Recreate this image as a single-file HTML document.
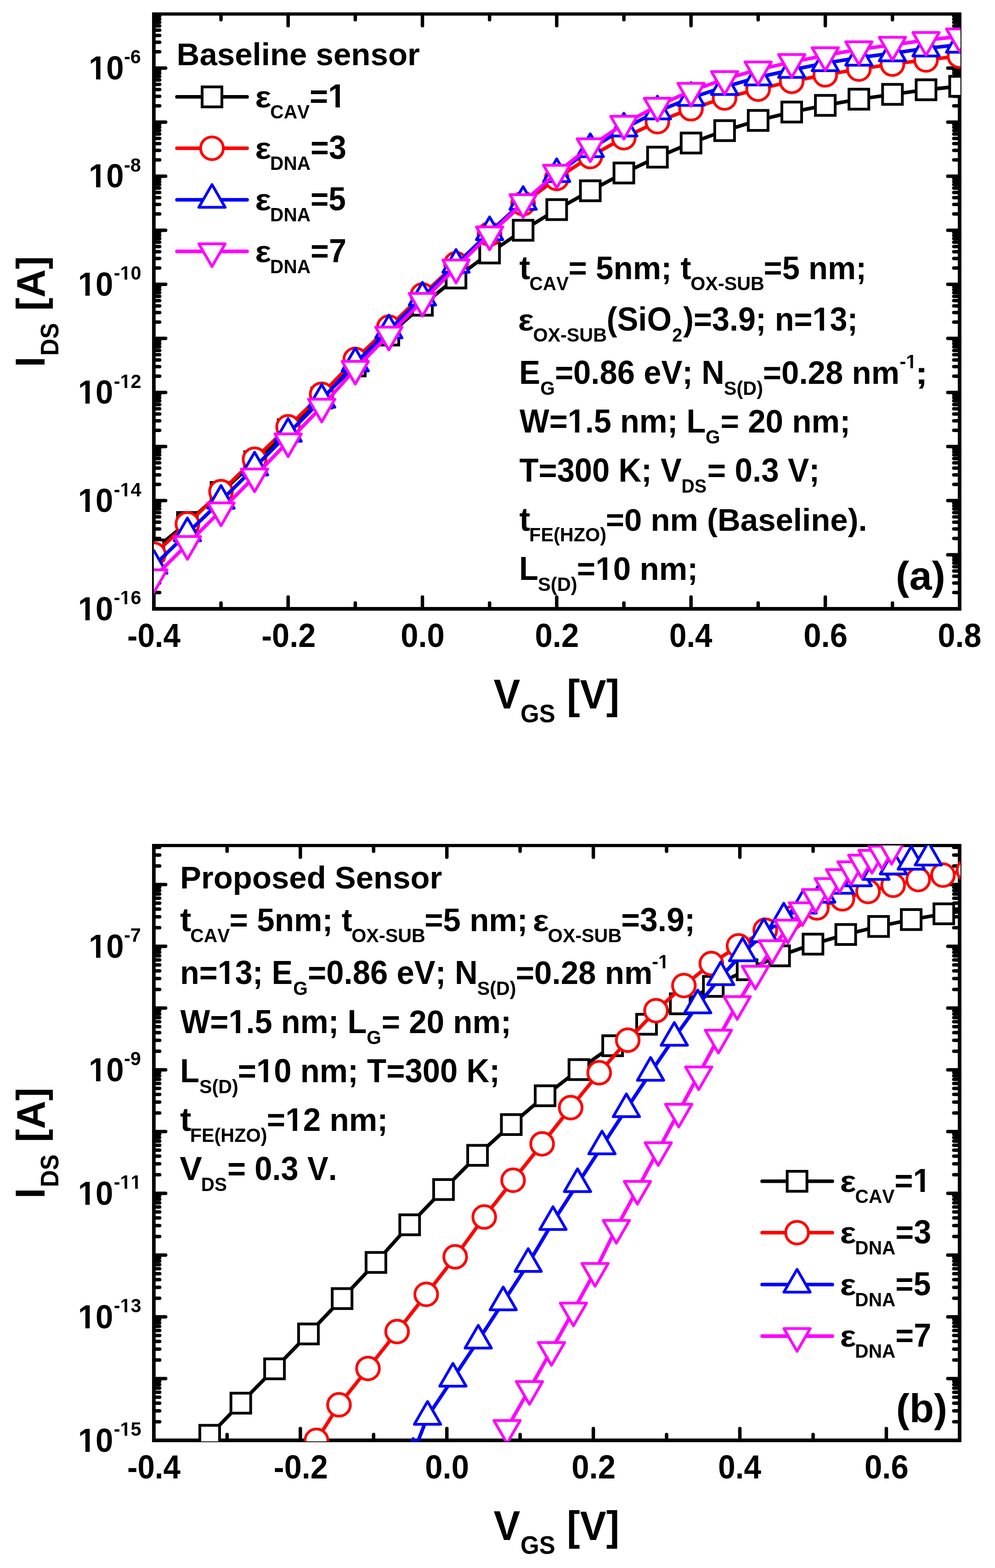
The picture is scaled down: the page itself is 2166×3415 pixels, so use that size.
<!DOCTYPE html>
<html lang="en"><head><meta charset="utf-8"><title>I-V characteristics</title>
<style>html,body{margin:0;padding:0;background:#fff}svg{display:block}text{white-space:pre;font-kerning:none}</style></head>
<body>
<svg width="2166" height="3415" viewBox="0 0 2166 3415" font-family='"Liberation Sans", sans-serif' font-weight="bold" fill="#000">
<rect width="2166" height="3415" fill="#fff"/>
<defs>
<clipPath id="ca"><rect x="334.90" y="30.40" width="1755.85" height="1297.80"/></clipPath>
<clipPath id="cb"><rect x="334.90" y="1841.40" width="1755.85" height="1297.80"/></clipPath>
<path id="msq" d="M-21.50 -21.75h43.0v43.5h-43.0z" stroke="#000000" stroke-width="6.0" fill="#fff" stroke-linejoin="miter"/>
<path id="mci" d="M-24.8 0.0a24.75 24.75 0 1 0 49.5 0a24.75 24.75 0 1 0 -49.5 0z" stroke="#ff0000" stroke-width="6.0" fill="#fff" stroke-linejoin="round"/>
<path id="mup" d="M0.0 -33.1l28.6 49.6h-57.3z" stroke="#0000ff" stroke-width="6.0" fill="#fff" stroke-linejoin="round"/>
<path id="mdn" d="M0.0 33.1l28.6 -49.6h-57.3z" stroke="#ff00ff" stroke-width="6.0" fill="#fff" stroke-linejoin="round"/>
</defs>
<path d="M331.00 26.90H2092.90V1329.90H331.00Z M338.80 33.90V1321.90H2085.00V33.90Z" fill="#000" fill-rule="evenodd"/>
<path d="M627.24 1325.90v-25.70M627.24 30.40v25.70M919.58 1325.90v-25.70M919.58 30.40v25.70M1211.92 1325.90v-25.70M1211.92 30.40v25.70M1504.27 1325.90v-25.70M1504.27 30.40v25.70M1796.61 1325.90v-25.70M1796.61 30.40v25.70M481.07 1325.90v-12.70M481.07 30.40v12.70M773.41 1325.90v-12.70M773.41 30.40v12.70M1065.75 1325.90v-12.70M1065.75 30.40v12.70M1358.10 1325.90v-12.70M1358.10 30.40v12.70M1650.44 1325.90v-12.70M1650.44 30.40v12.70M1942.78 1325.90v-12.70M1942.78 30.40v12.70M334.90 1290.45h12.70M2088.95 1290.45h-12.70M334.90 1269.71h12.70M2088.95 1269.71h-12.70M334.90 1254.99h12.70M2088.95 1254.99h-12.70M334.90 1243.58h12.70M2088.95 1243.58h-12.70M334.90 1234.26h12.70M2088.95 1234.26h-12.70M334.90 1226.37h12.70M2088.95 1226.37h-12.70M334.90 1219.54h12.70M2088.95 1219.54h-12.70M334.90 1213.52h12.70M2088.95 1213.52h-12.70M334.90 1208.13h25.70M2088.95 1208.13h-25.70M334.90 1172.67h12.70M2088.95 1172.67h-12.70M334.90 1151.94h12.70M2088.95 1151.94h-12.70M334.90 1137.22h12.70M2088.95 1137.22h-12.70M334.90 1125.81h12.70M2088.95 1125.81h-12.70M334.90 1116.48h12.70M2088.95 1116.48h-12.70M334.90 1108.60h12.70M2088.95 1108.60h-12.70M334.90 1101.77h12.70M2088.95 1101.77h-12.70M334.90 1095.74h12.70M2088.95 1095.74h-12.70M334.90 1090.35h25.70M2088.95 1090.35h-25.70M334.90 1054.90h12.70M2088.95 1054.90h-12.70M334.90 1034.16h12.70M2088.95 1034.16h-12.70M334.90 1019.45h12.70M2088.95 1019.45h-12.70M334.90 1008.03h12.70M2088.95 1008.03h-12.70M334.90 998.71h12.70M2088.95 998.71h-12.70M334.90 990.83h12.70M2088.95 990.83h-12.70M334.90 984.00h12.70M2088.95 984.00h-12.70M334.90 977.97h12.70M2088.95 977.97h-12.70M334.90 972.58h25.70M2088.95 972.58h-25.70M334.90 937.13h12.70M2088.95 937.13h-12.70M334.90 916.39h12.70M2088.95 916.39h-12.70M334.90 901.68h12.70M2088.95 901.68h-12.70M334.90 890.26h12.70M2088.95 890.26h-12.70M334.90 880.94h12.70M2088.95 880.94h-12.70M334.90 873.05h12.70M2088.95 873.05h-12.70M334.90 866.22h12.70M2088.95 866.22h-12.70M334.90 860.20h12.70M2088.95 860.20h-12.70M334.90 854.81h25.70M2088.95 854.81h-25.70M334.90 819.36h12.70M2088.95 819.36h-12.70M334.90 798.62h12.70M2088.95 798.62h-12.70M334.90 783.90h12.70M2088.95 783.90h-12.70M334.90 772.49h12.70M2088.95 772.49h-12.70M334.90 763.16h12.70M2088.95 763.16h-12.70M334.90 755.28h12.70M2088.95 755.28h-12.70M334.90 748.45h12.70M2088.95 748.45h-12.70M334.90 742.43h12.70M2088.95 742.43h-12.70M334.90 737.04h25.70M2088.95 737.04h-25.70M334.90 701.58h12.70M2088.95 701.58h-12.70M334.90 680.84h12.70M2088.95 680.84h-12.70M334.90 666.13h12.70M2088.95 666.13h-12.70M334.90 654.72h12.70M2088.95 654.72h-12.70M334.90 645.39h12.70M2088.95 645.39h-12.70M334.90 637.51h12.70M2088.95 637.51h-12.70M334.90 630.68h12.70M2088.95 630.68h-12.70M334.90 624.65h12.70M2088.95 624.65h-12.70M334.90 619.26h25.70M2088.95 619.26h-25.70M334.90 583.81h12.70M2088.95 583.81h-12.70M334.90 563.07h12.70M2088.95 563.07h-12.70M334.90 548.36h12.70M2088.95 548.36h-12.70M334.90 536.94h12.70M2088.95 536.94h-12.70M334.90 527.62h12.70M2088.95 527.62h-12.70M334.90 519.73h12.70M2088.95 519.73h-12.70M334.90 512.90h12.70M2088.95 512.90h-12.70M334.90 506.88h12.70M2088.95 506.88h-12.70M334.90 501.49h25.70M2088.95 501.49h-25.70M334.90 466.04h12.70M2088.95 466.04h-12.70M334.90 445.30h12.70M2088.95 445.30h-12.70M334.90 430.58h12.70M2088.95 430.58h-12.70M334.90 419.17h12.70M2088.95 419.17h-12.70M334.90 409.85h12.70M2088.95 409.85h-12.70M334.90 401.96h12.70M2088.95 401.96h-12.70M334.90 395.13h12.70M2088.95 395.13h-12.70M334.90 389.11h12.70M2088.95 389.11h-12.70M334.90 383.72h25.70M2088.95 383.72h-25.70M334.90 348.27h12.70M2088.95 348.27h-12.70M334.90 327.53h12.70M2088.95 327.53h-12.70M334.90 312.81h12.70M2088.95 312.81h-12.70M334.90 301.40h12.70M2088.95 301.40h-12.70M334.90 292.07h12.70M2088.95 292.07h-12.70M334.90 284.19h12.70M2088.95 284.19h-12.70M334.90 277.36h12.70M2088.95 277.36h-12.70M334.90 271.33h12.70M2088.95 271.33h-12.70M334.90 265.95h25.70M2088.95 265.95h-25.70M334.90 230.49h12.70M2088.95 230.49h-12.70M334.90 209.75h12.70M2088.95 209.75h-12.70M334.90 195.04h12.70M2088.95 195.04h-12.70M334.90 183.63h12.70M2088.95 183.63h-12.70M334.90 174.30h12.70M2088.95 174.30h-12.70M334.90 166.42h12.70M2088.95 166.42h-12.70M334.90 159.59h12.70M2088.95 159.59h-12.70M334.90 153.56h12.70M2088.95 153.56h-12.70M334.90 148.17h25.70M2088.95 148.17h-25.70M334.90 112.72h12.70M2088.95 112.72h-12.70M334.90 91.98h12.70M2088.95 91.98h-12.70M334.90 77.27h12.70M2088.95 77.27h-12.70M334.90 65.85h12.70M2088.95 65.85h-12.70M334.90 56.53h12.70M2088.95 56.53h-12.70M334.90 48.64h12.70M2088.95 48.64h-12.70M334.90 41.81h12.70M2088.95 41.81h-12.70M334.90 35.79h12.70M2088.95 35.79h-12.70" stroke="#000" stroke-width="7.5" fill="none" stroke-linecap="round"/>
<g clip-path="url(#ca)">
<path d="M334.9 1197.7L408.0 1138.0L481.1 1072.5L554.2 1005.7L627.2 936.0L700.3 866.8L773.4 796.9L846.5 729.8L919.6 664.8L992.7 605.4L1065.8 551.1L1138.8 501.4L1211.9 456.5L1285.0 415.5L1358.1 376.8L1431.2 342.3L1504.3 311.4L1577.4 284.4L1650.4 262.3L1723.5 244.1L1796.6 229.4L1869.7 216.0L1942.8 205.6L2015.9 195.4L2088.9 188.0" stroke="#000000" stroke-width="7.8" fill="none" stroke-linejoin="round"/>
<use href="#msq" x="334.9" y="1197.7"/><use href="#msq" x="408.0" y="1138.0"/><use href="#msq" x="481.1" y="1072.5"/><use href="#msq" x="554.2" y="1005.7"/><use href="#msq" x="627.2" y="936.0"/><use href="#msq" x="700.3" y="866.8"/><use href="#msq" x="773.4" y="796.9"/><use href="#msq" x="846.5" y="729.8"/><use href="#msq" x="919.6" y="664.8"/><use href="#msq" x="992.7" y="605.4"/><use href="#msq" x="1065.8" y="551.1"/><use href="#msq" x="1138.8" y="501.4"/><use href="#msq" x="1211.9" y="456.5"/><use href="#msq" x="1285.0" y="415.5"/><use href="#msq" x="1358.1" y="376.8"/><use href="#msq" x="1431.2" y="342.3"/><use href="#msq" x="1504.3" y="311.4"/><use href="#msq" x="1577.4" y="284.4"/><use href="#msq" x="1650.4" y="262.3"/><use href="#msq" x="1723.5" y="244.1"/><use href="#msq" x="1796.6" y="229.4"/><use href="#msq" x="1869.7" y="216.0"/><use href="#msq" x="1942.8" y="205.6"/><use href="#msq" x="2015.9" y="195.4"/><use href="#msq" x="2088.9" y="188.0"/>
</g>
<g clip-path="url(#ca)">
<path d="M334.9 1206.9L408.0 1140.9L481.1 1070.7L554.2 1000.2L627.2 929.5L700.3 858.7L773.4 782.8L846.5 712.6L919.6 642.6L992.7 574.4L1065.8 509.7L1138.8 443.5L1211.9 388.7L1285.0 341.0L1358.1 299.9L1431.2 265.0L1504.3 236.8L1577.4 213.4L1650.4 194.2L1723.5 177.2L1796.6 163.0L1869.7 150.5L1942.8 139.7L2015.9 130.5L2088.9 122.2" stroke="#ff0000" stroke-width="7.8" fill="none" stroke-linejoin="round"/>
<use href="#mci" x="334.9" y="1206.9"/><use href="#mci" x="408.0" y="1140.9"/><use href="#mci" x="481.1" y="1070.7"/><use href="#mci" x="554.2" y="1000.2"/><use href="#mci" x="627.2" y="929.5"/><use href="#mci" x="700.3" y="858.7"/><use href="#mci" x="773.4" y="782.8"/><use href="#mci" x="846.5" y="712.6"/><use href="#mci" x="919.6" y="642.6"/><use href="#mci" x="992.7" y="574.4"/><use href="#mci" x="1065.8" y="509.7"/><use href="#mci" x="1138.8" y="443.5"/><use href="#mci" x="1211.9" y="388.7"/><use href="#mci" x="1285.0" y="341.0"/><use href="#mci" x="1358.1" y="299.9"/><use href="#mci" x="1431.2" y="265.0"/><use href="#mci" x="1504.3" y="236.8"/><use href="#mci" x="1577.4" y="213.4"/><use href="#mci" x="1650.4" y="194.2"/><use href="#mci" x="1723.5" y="177.2"/><use href="#mci" x="1796.6" y="163.0"/><use href="#mci" x="1869.7" y="150.5"/><use href="#mci" x="1942.8" y="139.7"/><use href="#mci" x="2015.9" y="130.5"/><use href="#mci" x="2088.9" y="122.2"/>
</g>
<g clip-path="url(#ca)">
<path d="M334.9 1232.0L408.0 1161.3L481.1 1090.6L554.2 1018.0L627.2 944.6L700.3 870.5L773.4 791.4L846.5 719.4L919.6 648.0L992.7 576.5L1065.8 505.5L1138.8 439.5L1211.9 379.0L1285.0 324.7L1358.1 279.7L1431.2 242.6L1504.3 213.0L1577.4 189.3L1650.4 168.4L1723.5 152.1L1796.6 137.5L1869.7 125.6L1942.8 115.9L2015.9 105.4L2088.9 97.3" stroke="#0000ff" stroke-width="7.8" fill="none" stroke-linejoin="round"/>
<use href="#mup" x="334.9" y="1232.0"/><use href="#mup" x="408.0" y="1161.3"/><use href="#mup" x="481.1" y="1090.6"/><use href="#mup" x="554.2" y="1018.0"/><use href="#mup" x="627.2" y="944.6"/><use href="#mup" x="700.3" y="870.5"/><use href="#mup" x="773.4" y="791.4"/><use href="#mup" x="846.5" y="719.4"/><use href="#mup" x="919.6" y="648.0"/><use href="#mup" x="992.7" y="576.5"/><use href="#mup" x="1065.8" y="505.5"/><use href="#mup" x="1138.8" y="439.5"/><use href="#mup" x="1211.9" y="379.0"/><use href="#mup" x="1285.0" y="324.7"/><use href="#mup" x="1358.1" y="279.7"/><use href="#mup" x="1431.2" y="242.6"/><use href="#mup" x="1504.3" y="213.0"/><use href="#mup" x="1577.4" y="189.3"/><use href="#mup" x="1650.4" y="168.4"/><use href="#mup" x="1723.5" y="152.1"/><use href="#mup" x="1796.6" y="137.5"/><use href="#mup" x="1869.7" y="125.6"/><use href="#mup" x="1942.8" y="115.9"/><use href="#mup" x="2015.9" y="105.4"/><use href="#mup" x="2088.9" y="97.3"/>
</g>
<g clip-path="url(#ca)">
<path d="M334.9 1257.4L408.0 1185.1L481.1 1111.8L554.2 1037.9L627.2 961.5L700.3 886.0L773.4 803.5L846.5 729.1L919.6 655.5L992.7 582.8L1065.8 510.8L1138.8 440.6L1211.9 376.4L1285.0 318.8L1358.1 269.8L1431.2 230.5L1504.3 198.1L1577.4 172.5L1650.4 151.5L1723.5 135.3L1796.6 120.6L1869.7 107.5L1942.8 97.8L2015.9 87.3L2088.9 79.5" stroke="#ff00ff" stroke-width="7.8" fill="none" stroke-linejoin="round"/>
<use href="#mdn" x="334.9" y="1257.4"/><use href="#mdn" x="408.0" y="1185.1"/><use href="#mdn" x="481.1" y="1111.8"/><use href="#mdn" x="554.2" y="1037.9"/><use href="#mdn" x="627.2" y="961.5"/><use href="#mdn" x="700.3" y="886.0"/><use href="#mdn" x="773.4" y="803.5"/><use href="#mdn" x="846.5" y="729.1"/><use href="#mdn" x="919.6" y="655.5"/><use href="#mdn" x="992.7" y="582.8"/><use href="#mdn" x="1065.8" y="510.8"/><use href="#mdn" x="1138.8" y="440.6"/><use href="#mdn" x="1211.9" y="376.4"/><use href="#mdn" x="1285.0" y="318.8"/><use href="#mdn" x="1358.1" y="269.8"/><use href="#mdn" x="1431.2" y="230.5"/><use href="#mdn" x="1504.3" y="198.1"/><use href="#mdn" x="1577.4" y="172.5"/><use href="#mdn" x="1650.4" y="151.5"/><use href="#mdn" x="1723.5" y="135.3"/><use href="#mdn" x="1796.6" y="120.6"/><use href="#mdn" x="1869.7" y="107.5"/><use href="#mdn" x="1942.8" y="97.8"/><use href="#mdn" x="2015.9" y="87.3"/><use href="#mdn" x="2088.9" y="79.5"/>
</g>
<path d="M331.00 1837.90H2092.90V3140.90H331.00Z M338.80 1844.90V3132.90H2085.00V1844.90Z" fill="#000" fill-rule="evenodd"/>
<path d="M653.82 3136.90v-25.70M653.82 1841.40v25.70M972.74 3136.90v-25.70M972.74 1841.40v25.70M1291.65 3136.90v-25.70M1291.65 1841.40v25.70M1610.57 3136.90v-25.70M1610.57 1841.40v25.70M1929.49 3136.90v-25.70M1929.49 1841.40v25.70M494.36 3136.90v-12.70M494.36 1841.40v12.70M813.28 3136.90v-12.70M813.28 1841.40v12.70M1132.20 3136.90v-12.70M1132.20 1841.40v12.70M1451.11 3136.90v-12.70M1451.11 1841.40v12.70M1770.03 3136.90v-12.70M1770.03 1841.40v12.70M334.90 3096.41h12.70M2088.95 3096.41h-12.70M334.90 3072.73h12.70M2088.95 3072.73h-12.70M334.90 3055.92h12.70M2088.95 3055.92h-12.70M334.90 3042.89h12.70M2088.95 3042.89h-12.70M334.90 3032.24h12.70M2088.95 3032.24h-12.70M334.90 3023.23h12.70M2088.95 3023.23h-12.70M334.90 3015.43h12.70M2088.95 3015.43h-12.70M334.90 3008.55h12.70M2088.95 3008.55h-12.70M334.90 3002.40h25.70M2088.95 3002.40h-25.70M334.90 2961.91h12.70M2088.95 2961.91h-12.70M334.90 2938.23h12.70M2088.95 2938.23h-12.70M334.90 2921.42h12.70M2088.95 2921.42h-12.70M334.90 2908.39h12.70M2088.95 2908.39h-12.70M334.90 2897.74h12.70M2088.95 2897.74h-12.70M334.90 2888.73h12.70M2088.95 2888.73h-12.70M334.90 2880.93h12.70M2088.95 2880.93h-12.70M334.90 2874.05h12.70M2088.95 2874.05h-12.70M334.90 2867.90h25.70M2088.95 2867.90h-25.70M334.90 2827.41h12.70M2088.95 2827.41h-12.70M334.90 2803.73h12.70M2088.95 2803.73h-12.70M334.90 2786.92h12.70M2088.95 2786.92h-12.70M334.90 2773.89h12.70M2088.95 2773.89h-12.70M334.90 2763.24h12.70M2088.95 2763.24h-12.70M334.90 2754.23h12.70M2088.95 2754.23h-12.70M334.90 2746.43h12.70M2088.95 2746.43h-12.70M334.90 2739.55h12.70M2088.95 2739.55h-12.70M334.90 2733.40h25.70M2088.95 2733.40h-25.70M334.90 2692.91h12.70M2088.95 2692.91h-12.70M334.90 2669.23h12.70M2088.95 2669.23h-12.70M334.90 2652.42h12.70M2088.95 2652.42h-12.70M334.90 2639.39h12.70M2088.95 2639.39h-12.70M334.90 2628.74h12.70M2088.95 2628.74h-12.70M334.90 2619.73h12.70M2088.95 2619.73h-12.70M334.90 2611.93h12.70M2088.95 2611.93h-12.70M334.90 2605.05h12.70M2088.95 2605.05h-12.70M334.90 2598.90h25.70M2088.95 2598.90h-25.70M334.90 2558.41h12.70M2088.95 2558.41h-12.70M334.90 2534.73h12.70M2088.95 2534.73h-12.70M334.90 2517.92h12.70M2088.95 2517.92h-12.70M334.90 2504.89h12.70M2088.95 2504.89h-12.70M334.90 2494.24h12.70M2088.95 2494.24h-12.70M334.90 2485.23h12.70M2088.95 2485.23h-12.70M334.90 2477.43h12.70M2088.95 2477.43h-12.70M334.90 2470.55h12.70M2088.95 2470.55h-12.70M334.90 2464.40h25.70M2088.95 2464.40h-25.70M334.90 2423.91h12.70M2088.95 2423.91h-12.70M334.90 2400.23h12.70M2088.95 2400.23h-12.70M334.90 2383.42h12.70M2088.95 2383.42h-12.70M334.90 2370.39h12.70M2088.95 2370.39h-12.70M334.90 2359.74h12.70M2088.95 2359.74h-12.70M334.90 2350.73h12.70M2088.95 2350.73h-12.70M334.90 2342.93h12.70M2088.95 2342.93h-12.70M334.90 2336.05h12.70M2088.95 2336.05h-12.70M334.90 2329.90h25.70M2088.95 2329.90h-25.70M334.90 2289.41h12.70M2088.95 2289.41h-12.70M334.90 2265.73h12.70M2088.95 2265.73h-12.70M334.90 2248.92h12.70M2088.95 2248.92h-12.70M334.90 2235.89h12.70M2088.95 2235.89h-12.70M334.90 2225.24h12.70M2088.95 2225.24h-12.70M334.90 2216.23h12.70M2088.95 2216.23h-12.70M334.90 2208.43h12.70M2088.95 2208.43h-12.70M334.90 2201.55h12.70M2088.95 2201.55h-12.70M334.90 2195.40h25.70M2088.95 2195.40h-25.70M334.90 2154.91h12.70M2088.95 2154.91h-12.70M334.90 2131.23h12.70M2088.95 2131.23h-12.70M334.90 2114.42h12.70M2088.95 2114.42h-12.70M334.90 2101.39h12.70M2088.95 2101.39h-12.70M334.90 2090.74h12.70M2088.95 2090.74h-12.70M334.90 2081.73h12.70M2088.95 2081.73h-12.70M334.90 2073.93h12.70M2088.95 2073.93h-12.70M334.90 2067.05h12.70M2088.95 2067.05h-12.70M334.90 2060.90h25.70M2088.95 2060.90h-25.70M334.90 2020.41h12.70M2088.95 2020.41h-12.70M334.90 1996.73h12.70M2088.95 1996.73h-12.70M334.90 1979.92h12.70M2088.95 1979.92h-12.70M334.90 1966.89h12.70M2088.95 1966.89h-12.70M334.90 1956.24h12.70M2088.95 1956.24h-12.70M334.90 1947.23h12.70M2088.95 1947.23h-12.70M334.90 1939.43h12.70M2088.95 1939.43h-12.70M334.90 1932.55h12.70M2088.95 1932.55h-12.70M334.90 1926.40h25.70M2088.95 1926.40h-25.70M334.90 1885.91h12.70M2088.95 1885.91h-12.70M334.90 1862.23h12.70M2088.95 1862.23h-12.70M334.90 1845.42h12.70M2088.95 1845.42h-12.70" stroke="#000" stroke-width="7.5" fill="none" stroke-linecap="round"/>
<g clip-path="url(#cb)">
<path d="M456.5 3126.0L524.2 3055.9L597.6 2981.3L671.5 2905.3L744.7 2828.3L818.4 2749.4L891.8 2667.4L965.5 2590.8L1039.6 2516.2L1113.0 2449.2L1186.6 2386.5L1260.2 2329.4L1333.6 2277.4L1407.5 2230.8L1480.8 2186.3L1552.8 2148.2L1626.3 2111.9L1697.1 2081.7L1769.8 2056.3L1841.1 2035.2L1912.6 2017.7L1983.6 2002.8L2054.6 1990.2L2127.0 1980.0" stroke="#000000" stroke-width="7.8" fill="none" stroke-linejoin="round"/>
<use href="#msq" x="456.5" y="3126.0"/><use href="#msq" x="524.2" y="3055.9"/><use href="#msq" x="597.6" y="2981.3"/><use href="#msq" x="671.5" y="2905.3"/><use href="#msq" x="744.7" y="2828.3"/><use href="#msq" x="818.4" y="2749.4"/><use href="#msq" x="891.8" y="2667.4"/><use href="#msq" x="965.5" y="2590.8"/><use href="#msq" x="1039.6" y="2516.2"/><use href="#msq" x="1113.0" y="2449.2"/><use href="#msq" x="1186.6" y="2386.5"/><use href="#msq" x="1260.2" y="2329.4"/><use href="#msq" x="1333.6" y="2277.4"/><use href="#msq" x="1407.5" y="2230.8"/><use href="#msq" x="1480.8" y="2186.3"/><use href="#msq" x="1552.8" y="2148.2"/><use href="#msq" x="1626.3" y="2111.9"/><use href="#msq" x="1697.1" y="2081.7"/><use href="#msq" x="1769.8" y="2056.3"/><use href="#msq" x="1841.1" y="2035.2"/><use href="#msq" x="1912.6" y="2017.7"/><use href="#msq" x="1983.6" y="2002.8"/><use href="#msq" x="2054.6" y="1990.2"/><use href="#msq" x="2127.0" y="1980.0"/>
</g>
<g clip-path="url(#cb)">
<path d="M688.9 3137.0L738.0 3059.6L801.1 2980.4L864.5 2900.1L927.9 2819.0L991.0 2737.3L1054.2 2650.6L1117.0 2570.5L1180.2 2491.2L1242.3 2412.3L1304.4 2336.3L1366.6 2265.4L1428.1 2201.2L1488.8 2146.5L1548.5 2098.5L1607.7 2060.0L1665.9 2026.0L1722.0 2000.0L1778.3 1977.3L1833.9 1957.6L1889.7 1941.6L1944.3 1928.0L1998.9 1915.7L2052.7 1906.0L2108.4 1895.5" stroke="#ff0000" stroke-width="7.8" fill="none" stroke-linejoin="round"/>
<use href="#mci" x="688.9" y="3137.0"/><use href="#mci" x="738.0" y="3059.6"/><use href="#mci" x="801.1" y="2980.4"/><use href="#mci" x="864.5" y="2900.1"/><use href="#mci" x="927.9" y="2819.0"/><use href="#mci" x="991.0" y="2737.3"/><use href="#mci" x="1054.2" y="2650.6"/><use href="#mci" x="1117.0" y="2570.5"/><use href="#mci" x="1180.2" y="2491.2"/><use href="#mci" x="1242.3" y="2412.3"/><use href="#mci" x="1304.4" y="2336.3"/><use href="#mci" x="1366.6" y="2265.4"/><use href="#mci" x="1428.1" y="2201.2"/><use href="#mci" x="1488.8" y="2146.5"/><use href="#mci" x="1548.5" y="2098.5"/><use href="#mci" x="1607.7" y="2060.0"/><use href="#mci" x="1665.9" y="2026.0"/><use href="#mci" x="1722.0" y="2000.0"/><use href="#mci" x="1778.3" y="1977.3"/><use href="#mci" x="1833.9" y="1957.6"/><use href="#mci" x="1889.7" y="1941.6"/><use href="#mci" x="1944.3" y="1928.0"/><use href="#mci" x="1998.9" y="1915.7"/><use href="#mci" x="2052.7" y="1906.0"/><use href="#mci" x="2108.4" y="1895.5"/>
</g>
<g clip-path="url(#cb)">
<path d="M899.4 3166.0L930.7 3085.4L986.0 3002.4L1041.1 2919.5L1095.4 2836.2L1149.8 2752.6L1203.8 2661.3L1257.2 2578.7L1310.5 2496.5L1363.6 2415.5L1416.3 2336.2L1467.9 2260.0L1518.9 2189.4L1569.0 2128.1L1616.6 2076.1L1662.7 2034.4L1706.2 2000.3L1748.5 1972.2L1789.0 1948.6L1829.7 1928.9L1868.4 1912.7L1906.9 1898.8L1944.9 1887.0L1983.7 1876.5L2020.9 1867.4" stroke="#0000ff" stroke-width="7.8" fill="none" stroke-linejoin="round"/>
<use href="#mup" x="899.4" y="3166.0"/><use href="#mup" x="930.7" y="3085.4"/><use href="#mup" x="986.0" y="3002.4"/><use href="#mup" x="1041.1" y="2919.5"/><use href="#mup" x="1095.4" y="2836.2"/><use href="#mup" x="1149.8" y="2752.6"/><use href="#mup" x="1203.8" y="2661.3"/><use href="#mup" x="1257.2" y="2578.7"/><use href="#mup" x="1310.5" y="2496.5"/><use href="#mup" x="1363.6" y="2415.5"/><use href="#mup" x="1416.3" y="2336.2"/><use href="#mup" x="1467.9" y="2260.0"/><use href="#mup" x="1518.9" y="2189.4"/><use href="#mup" x="1569.0" y="2128.1"/><use href="#mup" x="1616.6" y="2076.1"/><use href="#mup" x="1662.7" y="2034.4"/><use href="#mup" x="1706.2" y="2000.3"/><use href="#mup" x="1748.5" y="1972.2"/><use href="#mup" x="1789.0" y="1948.6"/><use href="#mup" x="1829.7" y="1928.9"/><use href="#mup" x="1868.4" y="1912.7"/><use href="#mup" x="1906.9" y="1898.8"/><use href="#mup" x="1944.9" y="1887.0"/><use href="#mup" x="1983.7" y="1876.5"/><use href="#mup" x="2020.9" y="1867.4"/>
</g>
<g clip-path="url(#cb)">
<path d="M1103.8 3110.2L1152.6 3025.5L1200.5 2940.4L1248.3 2854.5L1295.4 2768.2L1341.7 2674.5L1387.6 2589.5L1432.9 2505.2L1477.5 2421.4L1521.0 2340.2L1563.9 2260.3L1604.8 2187.0L1644.3 2121.0L1680.7 2065.2L1715.3 2020.4L1746.8 1982.7L1775.6 1953.8L1803.0 1930.0L1827.6 1910.5L1852.7 1893.5L1876.0 1879.1L1898.3 1868.6L1920.0 1859.4L1941.0 1849.0" stroke="#ff00ff" stroke-width="7.8" fill="none" stroke-linejoin="round"/>
<use href="#mdn" x="1103.8" y="3110.2"/><use href="#mdn" x="1152.6" y="3025.5"/><use href="#mdn" x="1200.5" y="2940.4"/><use href="#mdn" x="1248.3" y="2854.5"/><use href="#mdn" x="1295.4" y="2768.2"/><use href="#mdn" x="1341.7" y="2674.5"/><use href="#mdn" x="1387.6" y="2589.5"/><use href="#mdn" x="1432.9" y="2505.2"/><use href="#mdn" x="1477.5" y="2421.4"/><use href="#mdn" x="1521.0" y="2340.2"/><use href="#mdn" x="1563.9" y="2260.3"/><use href="#mdn" x="1604.8" y="2187.0"/><use href="#mdn" x="1644.3" y="2121.0"/><use href="#mdn" x="1680.7" y="2065.2"/><use href="#mdn" x="1715.3" y="2020.4"/><use href="#mdn" x="1746.8" y="1982.7"/><use href="#mdn" x="1775.6" y="1953.8"/><use href="#mdn" x="1803.0" y="1930.0"/><use href="#mdn" x="1827.6" y="1910.5"/><use href="#mdn" x="1852.7" y="1893.5"/><use href="#mdn" x="1876.0" y="1879.1"/><use href="#mdn" x="1898.3" y="1868.6"/><use href="#mdn" x="1920.0" y="1859.4"/><use href="#mdn" x="1941.0" y="1849.0"/>
</g>
<path d="M385.2 210.9H537.9" stroke="#000000" stroke-width="7.8" stroke-linecap="round"/>
<use href="#msq" x="461.5" y="210.9"/>
<path d="M385.2 322.9H537.9" stroke="#ff0000" stroke-width="7.8" stroke-linecap="round"/>
<use href="#mci" x="461.5" y="322.9"/>
<path d="M385.2 435.1H537.9" stroke="#0000ff" stroke-width="7.8" stroke-linecap="round"/>
<use href="#mup" x="461.5" y="435.1"/>
<path d="M385.2 547.5H537.9" stroke="#ff00ff" stroke-width="7.8" stroke-linecap="round"/>
<use href="#mdn" x="461.5" y="547.5"/>
<path d="M1659.1 2572.7H1811.9" stroke="#000000" stroke-width="7.8" stroke-linecap="round"/>
<use href="#msq" x="1735.1" y="2572.7"/>
<path d="M1659.1 2684.7H1811.9" stroke="#ff0000" stroke-width="7.8" stroke-linecap="round"/>
<use href="#mci" x="1735.1" y="2684.7"/>
<path d="M1659.1 2797.7H1811.9" stroke="#0000ff" stroke-width="7.8" stroke-linecap="round"/>
<use href="#mup" x="1735.1" y="2797.7"/>
<path d="M1659.1 2910.0H1811.9" stroke="#ff00ff" stroke-width="7.8" stroke-linecap="round"/>
<use href="#mdn" x="1735.1" y="2910.0"/>
<defs><clipPath id="k1"><path clip-rule="evenodd" d="M-40 -160H116.8V80H-40ZM2.07 -8.14H16.11V2.07H2.07ZM25.56 -8.14H38.64V2.07H38.64H25.56Z"/></clipPath><clipPath id="k2"><path clip-rule="evenodd" d="M-40 -160H99.8V80H-40ZM15.04 -38.03H23.46V-31.90H15.04ZM29.14 -38.03H36.98V-31.90H36.98H29.14Z"/></clipPath><clipPath id="k3"><path clip-rule="evenodd" d="M-40 -160H116.8V80H-40ZM2.07 -8.14H16.11V2.07H2.07ZM25.56 -8.14H38.64V2.07H38.64H25.56Z"/></clipPath><clipPath id="k4"><path clip-rule="evenodd" d="M-40 -160H99.8V80H-40ZM15.04 -38.03H23.46V-31.90H15.04ZM29.14 -38.03H36.98V-31.90H36.98H29.14Z"/></clipPath><clipPath id="k5"><path clip-rule="evenodd" d="M-40 -160H116.8V80H-40ZM2.07 -8.14H16.11V2.07H2.07ZM25.56 -8.14H38.64V2.07H38.64H25.56Z"/></clipPath><clipPath id="k6"><path clip-rule="evenodd" d="M-40 -160H99.8V80H-40ZM15.04 -38.03H23.46V-31.90H15.04ZM29.14 -38.03H36.98V-31.90H36.98H29.14Z"/></clipPath><clipPath id="k7"><path clip-rule="evenodd" d="M-40 -160H116.8V80H-40ZM2.07 -8.14H16.11V2.07H2.07ZM25.56 -8.14H38.64V2.07H38.64H25.56Z"/></clipPath><clipPath id="k8"><path clip-rule="evenodd" d="M-40 -160H99.8V80H-40ZM15.04 -38.03H23.46V-31.90H15.04ZM29.14 -38.03H36.98V-31.90H36.98H29.14Z"/></clipPath><clipPath id="k9"><path clip-rule="evenodd" d="M-40 -160H116.8V80H-40ZM2.07 -8.14H16.11V2.07H2.07ZM25.56 -8.14H38.64V2.07H38.64H25.56Z"/></clipPath><clipPath id="k10"><path clip-rule="evenodd" d="M-40 -160H116.8V80H-40ZM2.07 -8.14H16.11V2.07H2.07ZM25.56 -8.14H38.64V2.07H38.64H25.56Z"/></clipPath><clipPath id="k11"><path clip-rule="evenodd" d="M-40 -160H116.8V80H-40ZM2.07 -8.14H16.11V2.07H2.07ZM25.56 -8.14H38.64V2.07H38.64H25.56Z"/></clipPath><clipPath id="k12"><path clip-rule="evenodd" d="M-40 -160H99.8V80H-40ZM15.04 -38.03H23.46V-31.90H15.04ZM29.14 -38.03H36.98V-31.90H36.98H29.14Z"/></clipPath><clipPath id="k13"><path clip-rule="evenodd" d="M-40 -160H116.8V80H-40ZM2.07 -8.14H16.11V2.07H2.07ZM25.56 -8.14H38.64V2.07H38.64H25.56Z"/></clipPath><clipPath id="k14"><path clip-rule="evenodd" d="M-40 -160H99.8V80H-40ZM15.04 -38.03H23.46V-31.90H15.04ZM29.14 -38.03H36.98V-31.90H36.98H29.14Z"/></clipPath><clipPath id="k15"><path clip-rule="evenodd" d="M-40 -160H116.8V80H-40ZM2.07 -8.14H16.11V2.07H2.07ZM25.56 -8.14H38.64V2.07H38.64H25.56Z"/></clipPath><clipPath id="k16"><path clip-rule="evenodd" d="M-40 -160H99.8V80H-40ZM15.04 -38.03H23.46V-31.90H15.04ZM29.14 -38.03H36.98V-31.90H36.98H29.14ZM38.05 -38.03H46.48V-31.90H38.05ZM52.15 -38.03H60.00V-31.90H60.00H52.15Z"/></clipPath><clipPath id="k17"><path clip-rule="evenodd" d="M-40 -160H116.8V80H-40ZM2.07 -8.14H16.11V2.07H2.07ZM25.56 -8.14H38.64V2.07H38.64H25.56Z"/></clipPath><clipPath id="k18"><path clip-rule="evenodd" d="M-40 -160H116.8V80H-40ZM2.07 -8.14H16.11V2.07H2.07ZM25.56 -8.14H38.64V2.07H38.64H25.56Z"/></clipPath><clipPath id="k19"><path clip-rule="evenodd" d="M-40 -160H118.7V80H-40ZM42.37 -8.14H56.41V2.07H42.37ZM65.86 -8.14H78.94V2.07H78.94H65.86Z"/></clipPath><clipPath id="k20"><path clip-rule="evenodd" d="M-40 -160H118.7V80H-40ZM42.37 -8.14H56.41V2.07H42.37ZM65.86 -8.14H78.94V2.07H78.94H65.86Z"/></clipPath><clipPath id="k21"><path clip-rule="evenodd" d="M-40 -160H423.5V80H-40ZM285.87 -8.14H299.91V2.07H285.87ZM309.36 -8.14H322.44V2.07H322.44H309.36Z"/></clipPath><clipPath id="k22"><path clip-rule="evenodd" d="M-40 -160H76.8V80H-40ZM15.04 -38.03H23.46V-31.90H15.04ZM29.14 -38.03H36.98V-31.90H36.98H29.14Z"/></clipPath><clipPath id="k23"><path clip-rule="evenodd" d="M-40 -160H448.3V80H-40ZM107.49 -8.14H121.53V2.07H107.49ZM130.99 -8.14H144.06V2.07H144.06H130.99Z"/></clipPath><clipPath id="k24"><path clip-rule="evenodd" d="M-40 -160H302.7V80H-40ZM42.37 -8.14H56.41V2.07H42.37ZM65.86 -8.14H78.94V2.07H78.94H65.86Z"/></clipPath><clipPath id="k25"><path clip-rule="evenodd" d="M-40 -160H287.4V80H-40ZM84.52 -8.14H98.56V2.07H84.52ZM108.02 -8.14H121.09V2.07H121.09H108.02Z"/></clipPath><clipPath id="k26"><path clip-rule="evenodd" d="M-40 -160H76.8V80H-40ZM15.04 -38.03H23.46V-31.90H15.04ZM29.14 -38.03H36.98V-31.90H36.98H29.14Z"/></clipPath><clipPath id="k27"><path clip-rule="evenodd" d="M-40 -160H448.3V80H-40ZM107.49 -8.14H121.53V2.07H107.49ZM130.99 -8.14H144.06V2.07H144.06H130.99Z"/></clipPath><clipPath id="k28"><path clip-rule="evenodd" d="M-40 -160H611.4V80H-40ZM42.37 -8.14H56.41V2.07H42.37ZM65.86 -8.14H78.94V2.07H78.94H65.86Z"/></clipPath><clipPath id="k29"><path clip-rule="evenodd" d="M-40 -160H302.7V80H-40ZM42.37 -8.14H56.41V2.07H42.37ZM65.86 -8.14H78.94V2.07H78.94H65.86Z"/></clipPath></defs>
<text clip-path="url(#k1)" transform="translate(169.70 1350.50) scale(1.0000 1.0380)" font-size="69.00">10</text>
<text clip-path="url(#k2)" transform="translate(247.80 1350.50) scale(1.0000 1.0380)" font-size="69.00"><tspan dy="-33.14" font-size="41.40">-16</tspan></text>
<text clip-path="url(#k3)" transform="translate(169.70 1114.95) scale(1.0000 1.0380)" font-size="69.00">10</text>
<text clip-path="url(#k4)" transform="translate(247.80 1114.95) scale(1.0000 1.0380)" font-size="69.00"><tspan dy="-33.14" font-size="41.40">-14</tspan></text>
<text clip-path="url(#k5)" transform="translate(169.70 879.41) scale(1.0000 1.0380)" font-size="69.00">10</text>
<text clip-path="url(#k6)" transform="translate(247.80 879.41) scale(1.0000 1.0380)" font-size="69.00"><tspan dy="-33.14" font-size="41.40">-12</tspan></text>
<text clip-path="url(#k7)" transform="translate(169.70 643.86) scale(1.0000 1.0380)" font-size="69.00">10</text>
<text clip-path="url(#k8)" transform="translate(247.80 643.86) scale(1.0000 1.0380)" font-size="69.00"><tspan dy="-33.14" font-size="41.40">-10</tspan></text>
<text clip-path="url(#k9)" transform="translate(193.00 408.32) scale(1.0000 1.0380)" font-size="69.00">10</text>
<text transform="translate(270.00 408.32) scale(1.0000 1.0380)" font-size="69.00"><tspan dy="-33.14" font-size="41.40">-8</tspan></text>
<text clip-path="url(#k10)" transform="translate(193.00 172.77) scale(1.0000 1.0380)" font-size="69.00">10</text>
<text transform="translate(270.00 172.77) scale(1.0000 1.0380)" font-size="69.00"><tspan dy="-33.14" font-size="41.40">-6</tspan></text>
<text clip-path="url(#k11)" transform="translate(169.70 3161.50) scale(1.0000 1.0380)" font-size="69.00">10</text>
<text clip-path="url(#k12)" transform="translate(247.80 3161.50) scale(1.0000 1.0380)" font-size="69.00"><tspan dy="-33.14" font-size="41.40">-15</tspan></text>
<text clip-path="url(#k13)" transform="translate(169.70 2892.50) scale(1.0000 1.0380)" font-size="69.00">10</text>
<text clip-path="url(#k14)" transform="translate(247.80 2892.50) scale(1.0000 1.0380)" font-size="69.00"><tspan dy="-33.14" font-size="41.40">-13</tspan></text>
<text clip-path="url(#k15)" transform="translate(169.70 2623.50) scale(1.0000 1.0380)" font-size="69.00">10</text>
<text clip-path="url(#k16)" transform="translate(247.80 2623.50) scale(1.0000 1.0380)" font-size="69.00"><tspan dy="-33.14" font-size="41.40">-11</tspan></text>
<text clip-path="url(#k17)" transform="translate(193.00 2354.50) scale(1.0000 1.0380)" font-size="69.00">10</text>
<text transform="translate(270.00 2354.50) scale(1.0000 1.0380)" font-size="69.00"><tspan dy="-33.14" font-size="41.40">-9</tspan></text>
<text clip-path="url(#k18)" transform="translate(193.00 2085.50) scale(1.0000 1.0380)" font-size="69.00">10</text>
<text transform="translate(270.00 2085.50) scale(1.0000 1.0380)" font-size="69.00"><tspan dy="-33.14" font-size="41.40">-7</tspan></text>
<text transform="translate(276.98 1408.80) scale(0.9748 1.0380)" font-size="69.00">-0.4</text>
<text transform="translate(569.27 1408.80) scale(0.9920 1.0380)" font-size="69.00">-0.2</text>
<text transform="translate(872.14 1408.80) scale(0.9989 1.0380)" font-size="69.00">0.0</text>
<text transform="translate(1164.48 1408.80) scale(0.9989 1.0380)" font-size="69.00">0.2</text>
<text transform="translate(1456.89 1408.80) scale(0.9772 1.0380)" font-size="69.00">0.4</text>
<text transform="translate(1749.16 1408.80) scale(0.9989 1.0380)" font-size="69.00">0.6</text>
<text transform="translate(2041.54 1408.80) scale(0.9879 1.0380)" font-size="69.00">0.8</text>
<text transform="translate(276.98 3219.80) scale(0.9748 1.0380)" font-size="69.00">-0.4</text>
<text transform="translate(595.84 3219.80) scale(0.9920 1.0380)" font-size="69.00">-0.2</text>
<text transform="translate(925.29 3219.80) scale(0.9989 1.0380)" font-size="69.00">0.0</text>
<text transform="translate(1244.21 3219.80) scale(0.9989 1.0380)" font-size="69.00">0.2</text>
<text transform="translate(1563.19 3219.80) scale(0.9772 1.0380)" font-size="69.00">0.4</text>
<text transform="translate(1882.04 3219.80) scale(0.9989 1.0380)" font-size="69.00">0.6</text>
<text transform="translate(1074.51 1543.10) scale(0.9877 1.0380)" font-size="88.00">V</text>
<text transform="translate(1133.01 1543.10) scale(0.9931 1.0380)" font-size="88.00"><tspan dy="28.52" font-size="52.80">GS</tspan></text>
<text transform="translate(1233.92 1543.10) scale(0.9757 1.0000)" font-size="88.00">[V]</text>
<text transform="translate(1074.51 3353.90) scale(0.9877 1.0380)" font-size="88.00">V</text>
<text transform="translate(1133.01 3353.90) scale(0.9931 1.0380)" font-size="88.00"><tspan dy="28.52" font-size="52.80">GS</tspan></text>
<text transform="translate(1233.92 3353.90) scale(0.9757 1.0000)" font-size="88.00">[V]</text>
<text transform="translate(97.00 799.38) rotate(-90) scale(0.9308 1.0380)" font-size="88.00">I</text>
<text transform="translate(97.00 774.80) rotate(-90) scale(0.9746 1.0380)" font-size="88.00"><tspan dy="28.52" font-size="52.80">DS</tspan></text>
<text transform="translate(97.00 676.77) rotate(-90) scale(0.9741 1.0000)" font-size="88.00">[A]</text>
<text transform="translate(97.00 2610.18) rotate(-90) scale(0.9308 1.0380)" font-size="88.00">I</text>
<text transform="translate(97.00 2585.60) rotate(-90) scale(0.9746 1.0380)" font-size="88.00"><tspan dy="28.52" font-size="52.80">DS</tspan></text>
<text transform="translate(97.00 2487.57) rotate(-90) scale(0.9741 1.0000)" font-size="88.00">[A]</text>
<text transform="translate(555.17 234.00) scale(1.0750 0.9666)" font-size="69.00">ε</text>
<text transform="translate(588.23 234.00) scale(0.9835 1.0380)" font-size="69.00"><tspan dy="23.03" font-size="41.40">CAV</tspan></text>
<text clip-path="url(#k19)" transform="translate(674.00 234.00) scale(1.0000 1.0380)" font-size="69.00">=1</text>
<text transform="translate(555.17 346.00) scale(1.0750 0.9666)" font-size="69.00">ε</text>
<text transform="translate(588.06 346.00) scale(0.9812 1.0380)" font-size="69.00"><tspan dy="23.03" font-size="41.40">DNA</tspan></text>
<text transform="translate(675.92 346.00) scale(0.9918 1.0380)" font-size="69.00">=3</text>
<text transform="translate(555.17 458.40) scale(1.0750 0.9666)" font-size="69.00">ε</text>
<text transform="translate(588.06 458.40) scale(0.9812 1.0380)" font-size="69.00"><tspan dy="23.03" font-size="41.40">DNA</tspan></text>
<text transform="translate(675.96 458.40) scale(0.9784 1.0380)" font-size="69.00">=5</text>
<text transform="translate(555.17 570.80) scale(1.0750 0.9666)" font-size="69.00">ε</text>
<text transform="translate(588.06 570.80) scale(0.9812 1.0380)" font-size="69.00"><tspan dy="23.03" font-size="41.40">DNA</tspan></text>
<text transform="translate(675.92 570.80) scale(0.9918 1.0380)" font-size="69.00">=7</text>
<text transform="translate(1828.48 2595.80) scale(1.0750 0.9666)" font-size="69.00">ε</text>
<text transform="translate(1861.53 2595.80) scale(0.9835 1.0380)" font-size="69.00"><tspan dy="23.03" font-size="41.40">CAV</tspan></text>
<text clip-path="url(#k20)" transform="translate(1947.30 2595.80) scale(1.0000 1.0380)" font-size="69.00">=1</text>
<text transform="translate(1828.48 2707.80) scale(1.0750 0.9666)" font-size="69.00">ε</text>
<text transform="translate(1861.36 2707.80) scale(0.9812 1.0380)" font-size="69.00"><tspan dy="23.03" font-size="41.40">DNA</tspan></text>
<text transform="translate(1949.22 2707.80) scale(0.9918 1.0380)" font-size="69.00">=3</text>
<text transform="translate(1828.48 2820.80) scale(1.0750 0.9666)" font-size="69.00">ε</text>
<text transform="translate(1861.36 2820.80) scale(0.9812 1.0380)" font-size="69.00"><tspan dy="23.03" font-size="41.40">DNA</tspan></text>
<text transform="translate(1949.26 2820.80) scale(0.9784 1.0380)" font-size="69.00">=5</text>
<text transform="translate(1828.48 2933.10) scale(1.0750 0.9666)" font-size="69.00">ε</text>
<text transform="translate(1861.36 2933.10) scale(0.9812 1.0380)" font-size="69.00"><tspan dy="23.03" font-size="41.40">DNA</tspan></text>
<text transform="translate(1949.22 2933.10) scale(0.9918 1.0380)" font-size="69.00">=7</text>
<text transform="translate(384.60 141.90) scale(1.0002 1.0000)" font-size="69.00">Baseline sensor</text>
<text transform="translate(1130.47 607.80) scale(1.0333 1.0380)" font-size="69.00">t</text>
<text transform="translate(1152.54 607.80) scale(0.9800 1.0380)" font-size="69.00"><tspan dy="23.03" font-size="41.40">CAV</tspan></text>
<text transform="translate(1237.49 607.80) scale(1.0027 1.0100)" font-size="69.00">= 5nm; t</text>
<text transform="translate(1503.20 607.80) scale(0.9981 1.0380)" font-size="69.00"><tspan dy="23.03" font-size="41.40">OX-SUB</tspan></text>
<text transform="translate(1662.61 607.80) scale(0.9963 1.0100)" font-size="69.00">=5 nm;</text>
<text transform="translate(1127.83 719.70) scale(1.0571 0.9666)" font-size="69.00">ε</text>
<text transform="translate(1160.41 719.70) scale(0.9975 1.0380)" font-size="69.00"><tspan dy="23.03" font-size="41.40">OX-SUB</tspan></text>
<text transform="translate(1320.51 719.70) scale(0.9978 1.0380)" font-size="69.00">(SiO</text>
<text transform="translate(1463.25 719.70) scale(0.9550 1.0380)" font-size="69.00"><tspan dy="23.03" font-size="41.40">2</tspan></text>
<text clip-path="url(#k21)" transform="translate(1487.20 719.70) scale(0.9915 1.0380)" font-size="69.00">)=3.9; n=13;</text>
<text transform="translate(1129.90 836.00) scale(1.0000 1.0380)" font-size="69.00">E</text>
<text transform="translate(1176.14 836.00) scale(0.9821 1.0380)" font-size="69.00"><tspan dy="23.03" font-size="41.40">G</tspan></text>
<text transform="translate(1207.91 836.00) scale(0.9975 1.0380)" font-size="69.00">=0.86 eV; N</text>
<text transform="translate(1575.80 836.00) scale(1.0024 1.0380)" font-size="69.00"><tspan dy="23.03" font-size="41.40">S(D)</tspan></text>
<text transform="translate(1660.70 836.00) scale(1.0003 1.0100)" font-size="69.00">=0.28 nm</text>
<text clip-path="url(#k22)" transform="translate(1958.40 836.00) scale(1.0000 1.0380)" font-size="69.00"><tspan dy="-33.14" font-size="41.40">-1</tspan></text>
<text transform="translate(1991.94 836.00) scale(1.2222 0.9800)" font-size="69.00">;</text>
<text clip-path="url(#k23)" transform="translate(1131.00 942.10) scale(0.9929 1.0380)" font-size="69.00">W=1.5 nm; L</text>
<text transform="translate(1536.04 942.10) scale(0.9821 1.0380)" font-size="69.00"><tspan dy="23.03" font-size="41.40">G</tspan></text>
<text transform="translate(1568.49 942.10) scale(1.0033 1.0100)" font-size="69.00">= 20 nm;</text>
<text transform="translate(1130.50 1048.90) scale(0.9966 1.0380)" font-size="69.00">T=300 K; V</text>
<text transform="translate(1483.55 1048.90) scale(0.9491 1.0380)" font-size="69.00"><tspan dy="23.03" font-size="41.40">DS</tspan></text>
<text transform="translate(1539.69 1048.90) scale(1.0043 1.0380)" font-size="69.00">= 0.3 V;</text>
<text transform="translate(1130.47 1155.50) scale(1.0333 1.0380)" font-size="69.00">t</text>
<text transform="translate(1152.10 1155.50) scale(1.0012 1.0380)" font-size="69.00"><tspan dy="23.03" font-size="41.40">FE(HZO)</tspan></text>
<text transform="translate(1318.70 1155.50) scale(0.9996 1.0000)" font-size="69.00">=0 nm (Baseline).</text>
<text transform="translate(1129.93 1263.00) scale(0.9943 1.0380)" font-size="69.00">L</text>
<text transform="translate(1171.09 1263.00) scale(1.0061 1.0380)" font-size="69.00"><tspan dy="23.03" font-size="41.40">S(D)</tspan></text>
<text clip-path="url(#k24)" transform="translate(1255.79 1263.00) scale(1.0032 1.0100)" font-size="69.00">=10 nm;</text>
<text transform="translate(1950.09 1284.00) scale(1.0030 0.9800)" font-size="88.00">(a)</text>
<text transform="translate(392.01 1934.70) scale(0.9986 1.0000)" font-size="69.00">Proposed Sensor</text>
<text transform="translate(392.04 2028.00) scale(1.0619 1.0380)" font-size="69.00">t</text>
<text transform="translate(414.13 2028.00) scale(0.9871 1.0380)" font-size="69.00"><tspan dy="23.03" font-size="41.40">CAV</tspan></text>
<text transform="translate(499.59 2028.00) scale(1.0030 1.0100)" font-size="69.00">= 5nm; t</text>
<text transform="translate(765.20 2028.00) scale(0.9987 1.0380)" font-size="69.00"><tspan dy="23.03" font-size="41.40">OX-SUB</tspan></text>
<text transform="translate(924.20 2028.00) scale(1.0014 1.0100)" font-size="69.00">=5 nm;</text>
<text transform="translate(1159.86 2028.00) scale(1.0786 0.9666)" font-size="69.00">ε</text>
<text transform="translate(1192.81 2028.00) scale(0.9962 1.0380)" font-size="69.00"><tspan dy="23.03" font-size="41.40">OX-SUB</tspan></text>
<text transform="translate(1352.16 2028.00) scale(1.0127 1.0380)" font-size="69.00">=3.9;</text>
<text clip-path="url(#k25)" transform="translate(392.04 2143.40) scale(0.9912 1.0380)" font-size="69.00">n=13; E</text>
<text transform="translate(638.14 2143.40) scale(0.9821 1.0380)" font-size="69.00"><tspan dy="23.03" font-size="41.40">G</tspan></text>
<text transform="translate(669.90 2143.40) scale(0.9992 1.0380)" font-size="69.00">=0.86 eV; N</text>
<text transform="translate(1038.80 2143.40) scale(0.9963 1.0380)" font-size="69.00"><tspan dy="23.03" font-size="41.40">S(D)</tspan></text>
<text transform="translate(1122.69 2143.40) scale(1.0017 1.0100)" font-size="69.00">=0.28 nm</text>
<text clip-path="url(#k26)" transform="translate(1419.20 2143.40) scale(1.0000 1.0380)" font-size="69.00"><tspan dy="-33.14" font-size="41.40">-1</tspan></text>
<text clip-path="url(#k27)" transform="translate(392.60 2250.30) scale(0.9941 1.0380)" font-size="69.00">W=1.5 nm; L</text>
<text transform="translate(798.14 2250.30) scale(0.9821 1.0380)" font-size="69.00"><tspan dy="23.03" font-size="41.40">G</tspan></text>
<text transform="translate(830.70 2250.30) scale(1.0015 1.0100)" font-size="69.00">= 20 nm;</text>
<text transform="translate(392.01 2357.30) scale(0.9971 1.0380)" font-size="69.00">L</text>
<text transform="translate(434.00 2357.30) scale(0.9963 1.0380)" font-size="69.00"><tspan dy="23.03" font-size="41.40">S(D)</tspan></text>
<text clip-path="url(#k28)" transform="translate(517.71 2357.30) scale(0.9982 1.0380)" font-size="69.00">=10 nm; T=300 K;</text>
<text transform="translate(392.04 2462.90) scale(1.0619 1.0380)" font-size="69.00">t</text>
<text transform="translate(413.70 2462.90) scale(0.9994 1.0380)" font-size="69.00"><tspan dy="23.03" font-size="41.40">FE(HZO)</tspan></text>
<text clip-path="url(#k29)" transform="translate(580.79 2462.90) scale(1.0032 1.0100)" font-size="69.00">=12 nm;</text>
<text transform="translate(391.24 2570.40) scale(1.0591 1.0380)" font-size="69.00">V</text>
<text transform="translate(437.87 2570.40) scale(0.9774 1.0380)" font-size="69.00"><tspan dy="23.03" font-size="41.40">DS</tspan></text>
<text transform="translate(494.91 2570.40) scale(0.9970 1.0380)" font-size="69.00">= 0.3 V.</text>
<text transform="translate(1950.63 3097.00) scale(0.9913 0.9800)" font-size="88.00">(b)</text>
</svg>
</body></html>
